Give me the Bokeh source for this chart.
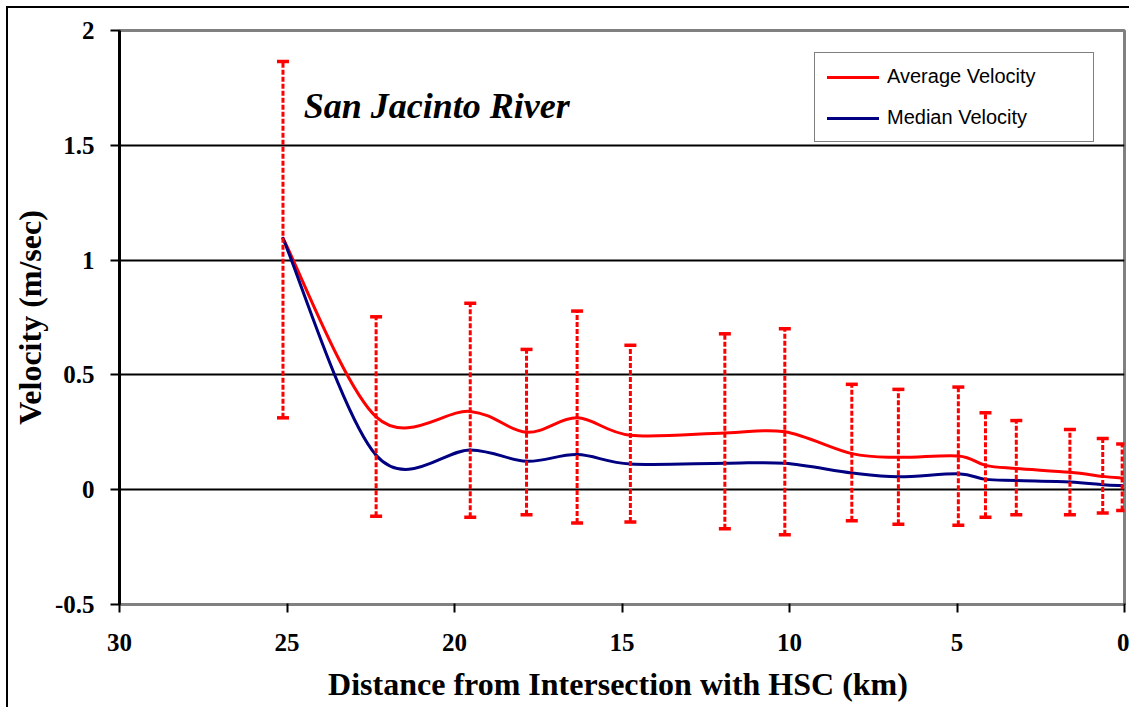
from bokeh.plotting import figure
from bokeh.models import (Range1d, FixedTicker, Whisker, TeeHead, ColumnDataSource,
                          Legend, LegendItem, Label)
from bokeh.embed import file_html
from bokeh.resources import INLINE

# ---- data ----
distance_km = [25.12, 22.34, 19.53, 17.85, 16.34, 14.75, 11.93, 10.14,
               8.14, 6.75, 4.96, 4.15, 3.23, 1.63, 0.65, 0.07]
average_velocity = [1.095, 0.317, 0.341, 0.250, 0.313, 0.237, 0.247, 0.252,
                    0.157, 0.141, 0.147, 0.106, 0.092, 0.076, 0.058, 0.051]
median_velocity = [1.095, 0.150, 0.173, 0.124, 0.153, 0.112, 0.115, 0.115,
                   0.073, 0.056, 0.069, 0.045, 0.040, 0.034, 0.022, 0.018]
upper_bound = [1.865, 0.753, 0.812, 0.611, 0.778, 0.629, 0.679, 0.701,
               0.459, 0.437, 0.447, 0.335, 0.301, 0.262, 0.223, 0.199]
lower_bound = [0.313, -0.116, -0.120, -0.109, -0.145, -0.141, -0.170, -0.196,
               -0.135, -0.150, -0.155, -0.120, -0.109, -0.109, -0.102, -0.091]

x_ticks = [30, 25, 20, 15, 10, 5, 0]
x_tick_labels = ["30", "25", "20", "15", "10", "5", "0"]
y_ticks = [-0.5, 0, 0.5, 1, 1.5, 2]
y_tick_labels = ["-0.5", "0", "0.5", "1", "1.5", "2"]

series_names = ["Average Velocity", "Median Velocity"]
chart_title = "San Jacinto River"
x_title = "Distance from Intersection with HSC  (km)"
y_title = "Velocity (m/sec)"

SERIF = "Liberation Serif"


def smooth_segments(xs, ys):
    """Cubic Bezier control points for a smoothed (Catmull-Rom) line."""
    n = len(xs)
    out = dict(x0=[], y0=[], x1=[], y1=[], cx0=[], cy0=[], cx1=[], cy1=[])
    for i in range(n - 1):
        a = max(i - 1, 0)
        b = min(i + 2, n - 1)
        out["x0"].append(xs[i]); out["y0"].append(ys[i])
        out["x1"].append(xs[i + 1]); out["y1"].append(ys[i + 1])
        out["cx0"].append(xs[i] + (xs[i + 1] - xs[a]) / 6.0)
        out["cy0"].append(ys[i] + (ys[i + 1] - ys[a]) / 6.0)
        out["cx1"].append(xs[i + 1] - (xs[b] - xs[i]) / 6.0)
        out["cy1"].append(ys[i + 1] - (ys[b] - ys[i]) / 6.0)
    return out


p = figure(width=1123, height=701,
           x_range=Range1d(30, 0), y_range=Range1d(-0.5, 2),
           output_backend="svg", toolbar_location=None,
           min_border_left=110, min_border_right=7,
           min_border_top=22, min_border_bottom=105,
           background_fill_color="white", border_fill_color="white",
           styles={"margin-left": "6px", "margin-top": "6px",
                   "border-left": "2px solid black", "border-top": "2px solid black"})

p.outline_line_color = "#808080"
p.outline_line_width = 3

p.xgrid.visible = False
p.ygrid.ticker = FixedTicker(ticks=[0, 0.5, 1, 1.5])
p.ygrid.grid_line_color = "black"
p.ygrid.grid_line_width = 2

# x axis
xa = p.xaxis[0]
xa.ticker = FixedTicker(ticks=x_ticks)
xa.major_label_overrides = {t: l for t, l in zip(x_ticks, x_tick_labels)}
xa.axis_line_color = "#808080"
xa.axis_line_width = 3
xa.major_tick_line_color = "black"
xa.major_tick_line_width = 2
xa.major_tick_in = 1
xa.major_tick_out = 8
xa.minor_tick_line_color = None
xa.major_label_text_font = SERIF
xa.major_label_text_font_style = "bold"
xa.major_label_text_font_size = "25px"
xa.major_label_text_color = "black"
xa.major_label_standoff = 21
xa.axis_label = x_title
xa.axis_label_text_font = SERIF
xa.axis_label_text_font_style = "bold"
xa.axis_label_text_font_size = "32px"
xa.axis_label_text_color = "black"
xa.axis_label_standoff = 12

# y axis
ya = p.yaxis[0]
ya.ticker = FixedTicker(ticks=y_ticks)
ya.major_label_overrides = {t: l for t, l in zip(y_ticks, y_tick_labels)}
ya.axis_line_color = "black"
ya.axis_line_width = 3
ya.major_tick_line_color = "black"
ya.major_tick_line_width = 2
ya.major_tick_in = 0
ya.major_tick_out = 9
ya.minor_tick_line_color = None
ya.major_label_text_font = SERIF
ya.major_label_text_font_style = "bold"
ya.major_label_text_font_size = "25px"
ya.major_label_text_color = "black"
ya.major_label_standoff = 16
ya.axis_label = y_title
ya.axis_label_text_font = SERIF
ya.axis_label_text_font_style = "bold"
ya.axis_label_text_font_size = "32px"
ya.axis_label_text_color = "black"
ya.axis_label_standoff = 4

# smoothed lines
avg_r = p.bezier(line_color="#ff0000", line_width=3, line_cap="round",
                 source=ColumnDataSource(smooth_segments(distance_km, average_velocity)),
                 x0="x0", y0="y0", x1="x1", y1="y1",
                 cx0="cx0", cy0="cy0", cx1="cx1", cy1="cy1")
med_r = p.bezier(line_color="#000080", line_width=3, line_cap="round",
                 source=ColumnDataSource(smooth_segments(distance_km, median_velocity)),
                 x0="x0", y0="y0", x1="x1", y1="y1",
                 cx0="cx0", cy0="cy0", cx1="cx1", cy1="cy1")

# error bars
err_src = ColumnDataSource(dict(x=distance_km, upper=upper_bound, lower=lower_bound))
whisk = Whisker(base="x", upper="upper", lower="lower", dimension="height",
                source=err_src, level="overlay",
                line_color="#ff0000", line_width=3, line_dash="5 2",
                upper_head=TeeHead(size=12, line_color="#ff0000", line_width=3.5),
                lower_head=TeeHead(size=12, line_color="#ff0000", line_width=3.5))
p.add_layout(whisk)

# title text inside plot
p.add_layout(Label(x=24.5, y=1.673, text=chart_title, text_font=SERIF,
                   text_font_style="bold italic", text_font_size="36px",
                   text_color="black", text_baseline="alphabetic", text_align="left"))

legend = Legend(items=[LegendItem(label=series_names[0], renderers=[avg_r]),
                       LegendItem(label=series_names[1], renderers=[med_r])],
                location=(695, 462), margin=0, padding=12, spacing=18,
                glyph_width=52, glyph_height=20, label_height=20, label_width=194,
                label_standoff=8,
                label_text_font="Liberation Sans", label_text_font_size="20px",
                label_text_color="black",
                border_line_color="black", border_line_width=1.5,
                background_fill_color="white", background_fill_alpha=1)
p.add_layout(legend)

open("out.html", "w").write(file_html(p, INLINE))
